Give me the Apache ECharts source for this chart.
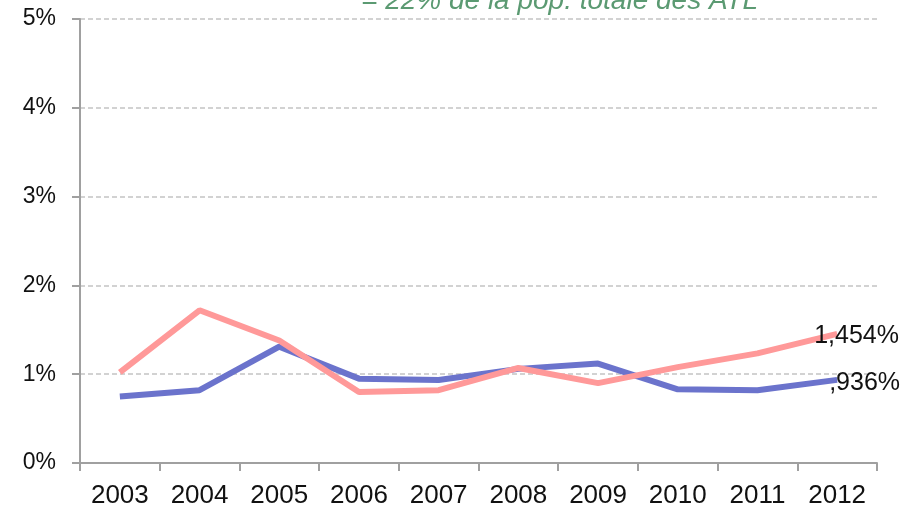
<!DOCTYPE html>
<html>
<head>
<meta charset="utf-8">
<script src="https://cdn.jsdelivr.net/npm/echarts@6/dist/echarts.min.js"></script>
<style>
  html, body { margin: 0; padding: 0; background: #fff; }
  #chart { width: 915px; height: 510px; }
</style>
</head>
<body>
<div id="chart"></div>
<script>
// années et taux (%)
const years = ["2003", "2004", "2005", "2006", "2007", "2008", "2009", "2010", "2011", "2012"];
const blueSeries = [0.75, 0.82, 1.31, 0.95, 0.935, 1.06, 1.12, 0.83, 0.82, 0.936];
const pinkSeries = [1.02, 1.72, 1.38, 0.80, 0.82, 1.07, 0.90, 1.08, 1.235, 1.454];
const titleText = "= 22% de la pop. totale des ATL";

const chart = echarts.init(document.getElementById("chart"));

// format français, avec la virgule
function frLabel(v, dropZero) {
  let s = v.toFixed(3).replace(".", ",");
  if (dropZero && s.startsWith("0")) s = s.substring(1);
  return s + "%";
}

const option = {
  animation: false,
  textStyle: { fontFamily: "Liberation Sans" },
  title: {
    text: titleText,
    left: 356,
    top: -18,
    textStyle: {
      color: "#5b9a72",
      fontStyle: "italic",
      fontWeight: "normal",
      fontSize: 28,
      fontFamily: "Liberation Sans",
    },
  },
  grid: { left: 80, right: 38, top: 19, bottom: 47 },
  xAxis: {
    type: "category",
    data: years,
    boundaryGap: true,
    axisLine: { lineStyle: { color: "#a0a0a0", width: 2 } },
    axisTick: { show: true, length: 8, lineStyle: { color: "#a0a0a0", width: 2 } },
    axisLabel: { color: "#111", fontSize: 26, margin: 20 },
  },
  yAxis: {
    type: "value",
    min: 0,
    max: 5,
    interval: 1,
    axisLine: { show: true, lineStyle: { color: "#a0a0a0", width: 2 } },
    axisTick: { show: true, length: 8, lineStyle: { color: "#a0a0a0", width: 2 } },
    axisLabel: { color: "#111", fontSize: 23, margin: 24, formatter: "{value}%" },
    splitLine: { lineStyle: { color: "#c4c4c4", type: [5, 3], width: 1.5 } },
  },
  series: [
    {
      name: "bleu",
      type: "line",
      data: blueSeries,
      symbol: "none",
      lineStyle: { color: "#6b73cc", width: 6 },
      endLabel: {
        show: true,
        formatter: (p) => frLabel(p.value, true),
        color: "#111",
        fontSize: 25,
        offset: [-16, 3],
      },
      z: 2,
    },
    {
      name: "rose",
      type: "line",
      data: pinkSeries,
      symbol: "none",
      lineStyle: { color: "#ff9999", width: 6 },
      endLabel: {
        show: true,
        formatter: (p) => frLabel(p.value, false),
        color: "#111",
        fontSize: 25,
        offset: [-31, 2],
      },
      z: 3,
    },
  ],
};

chart.setOption(option);
</script>
</body>
</html>
